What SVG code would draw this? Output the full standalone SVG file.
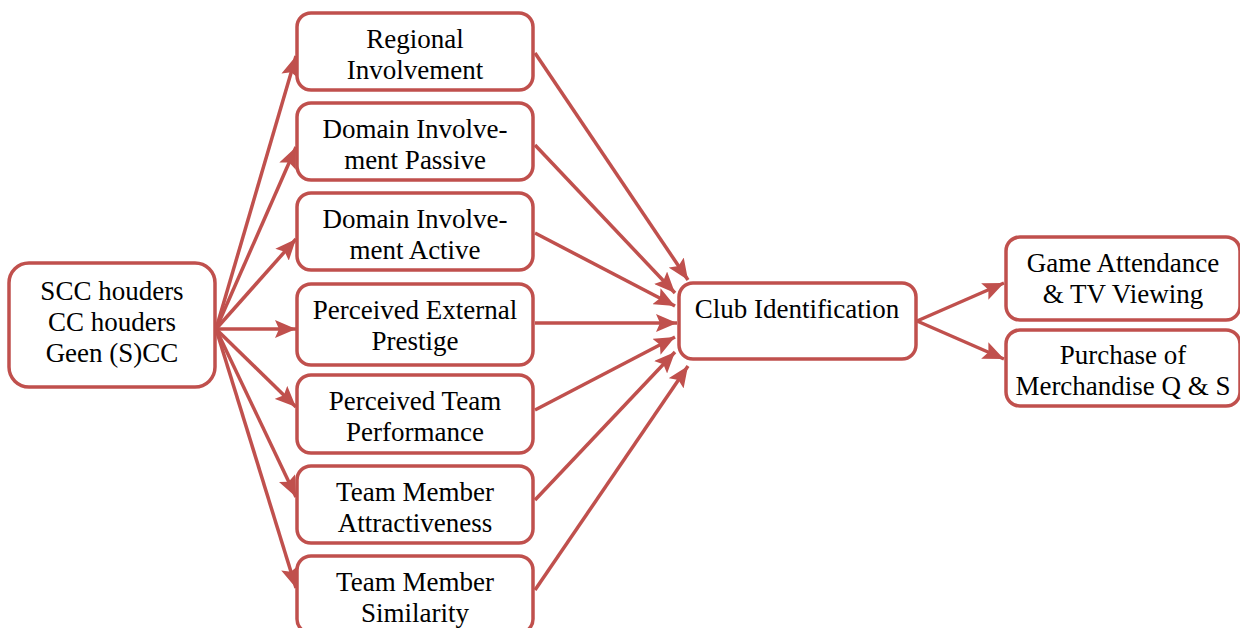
<svg xmlns="http://www.w3.org/2000/svg" width="1240" height="628" viewBox="0 0 1240 628">
  <style>
    .box { fill: #ffffff; stroke: #C0504D; stroke-width: 3.5; }
    .lbl { font-family: "Liberation Serif", "DejaVu Serif", serif; font-size: 27px; fill: #000000; text-anchor: middle; }
    .edge { stroke: #C0504D; stroke-width: 3.5; fill: none; marker-end: url(#arrow); }
  </style>
  <defs>
    <marker id="arrow" markerUnits="userSpaceOnUse" markerWidth="22" markerHeight="18" viewBox="0 0 22 18" refX="21" refY="9" orient="auto">
      <path d="M0,0 L21,9 L0,18 L4,9 Z" fill="#C0504D"/>
    </marker>
  </defs>
  <rect width="1240" height="628" fill="#ffffff"/>

  <!-- connectors -->
  <g id="connectors">
    <line class="edge" x1="216" y1="329" x2="296" y2="56"/>
    <line class="edge" x1="216" y1="329" x2="296" y2="147"/>
    <line class="edge" x1="216" y1="329" x2="296" y2="239"/>
    <line class="edge" x1="216" y1="329" x2="296" y2="329"/>
    <line class="edge" x1="216" y1="329" x2="296" y2="407"/>
    <line class="edge" x1="216" y1="329" x2="296" y2="497"/>
    <line class="edge" x1="216" y1="329" x2="296" y2="588"/>

    <line class="edge" x1="535" y1="53" x2="688" y2="280"/>
    <line class="edge" x1="535" y1="145" x2="675" y2="293"/>
    <line class="edge" x1="535" y1="233" x2="675" y2="306"/>
    <line class="edge" x1="535" y1="323" x2="677" y2="323"/>
    <line class="edge" x1="535" y1="410" x2="675" y2="337"/>
    <line class="edge" x1="535" y1="500" x2="675" y2="352"/>
    <line class="edge" x1="535" y1="590" x2="688" y2="366"/>

    <line class="edge" x1="917" y1="321" x2="1004" y2="283"/>
    <line class="edge" x1="917" y1="321" x2="1004" y2="359"/>
  </g>

  <!-- source group -->
  <g id="node-holders">
    <rect class="box" x="9" y="263" width="206" height="124" rx="20"/>
    <text class="lbl" x="112" y="300">SCC houders</text>
    <text class="lbl" x="112" y="331">CC houders</text>
    <text class="lbl" x="112" y="362">Geen (S)CC</text>
  </g>

  <!-- antecedents -->
  <g id="node-regional">
    <rect class="box" x="297" y="13" width="236" height="77" rx="14"/>
    <text class="lbl" x="415" y="48">Regional</text>
    <text class="lbl" x="415" y="79">Involvement</text>
  </g>
  <g id="node-domain-passive">
    <rect class="box" x="297" y="103" width="236" height="77" rx="14"/>
    <text class="lbl" x="415" y="138">Domain Involve-</text>
    <text class="lbl" x="415" y="169">ment Passive</text>
  </g>
  <g id="node-domain-active">
    <rect class="box" x="297" y="193" width="236" height="77" rx="14"/>
    <text class="lbl" x="415" y="228">Domain Involve-</text>
    <text class="lbl" x="415" y="259">ment Active</text>
  </g>
  <g id="node-prestige">
    <rect class="box" x="297" y="284" width="236" height="81" rx="14"/>
    <text class="lbl" x="415" y="319">Perceived External</text>
    <text class="lbl" x="415" y="350">Prestige</text>
  </g>
  <g id="node-performance">
    <rect class="box" x="297" y="375" width="236" height="78" rx="14"/>
    <text class="lbl" x="415" y="410">Perceived Team</text>
    <text class="lbl" x="415" y="441">Performance</text>
  </g>
  <g id="node-attractiveness">
    <rect class="box" x="297" y="466" width="236" height="77" rx="14"/>
    <text class="lbl" x="415" y="501">Team Member</text>
    <text class="lbl" x="415" y="532">Attractiveness</text>
  </g>
  <g id="node-similarity">
    <rect class="box" x="297" y="556" width="236" height="77" rx="14"/>
    <text class="lbl" x="415" y="591">Team Member</text>
    <text class="lbl" x="415" y="622">Similarity</text>
  </g>

  <!-- central construct -->
  <g id="node-club">
    <rect class="box" x="679" y="283" width="237" height="76" rx="14"/>
    <text class="lbl" x="797" y="318">Club Identification</text>
  </g>

  <!-- outcomes -->
  <g id="node-attendance">
    <rect class="box" x="1006" y="237" width="234" height="83" rx="14"/>
    <text class="lbl" x="1123" y="272">Game Attendance</text>
    <text class="lbl" x="1123" y="303">&amp; TV Viewing</text>
  </g>
  <g id="node-merchandise">
    <rect class="box" x="1006" y="330" width="234" height="76" rx="14"/>
    <text class="lbl" x="1123" y="364">Purchase of</text>
    <text class="lbl" x="1123" y="395">Merchandise Q &amp; S</text>
  </g>
</svg>
